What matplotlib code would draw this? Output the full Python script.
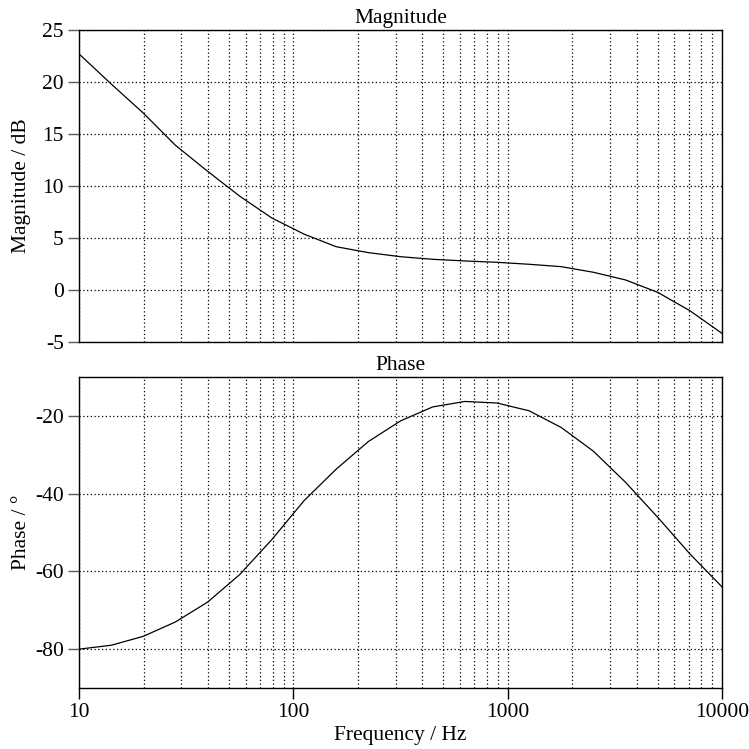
"""Bode plot: magnitude and phase over a log frequency axis."""
import matplotlib
matplotlib.use("Agg")
import matplotlib.pyplot as plt
from matplotlib.ticker import FixedLocator, LogLocator, NullFormatter

# 21 log-spaced frequencies from 10 Hz to 10 kHz (0.15 decade steps)
FREQ = [10.0, 14.13, 19.95, 28.18, 39.81, 56.23, 79.43, 112.2, 158.5, 223.9, 316.2,
        446.7, 631.0, 891.3, 1259.0, 1778.0, 2512.0, 3548.0, 5012.0, 7079.0, 10000.0]
MAG_DB = [22.7, 19.8, 17.0, 13.9, 11.4, 9.0, 6.9, 5.35, 4.14, 3.57, 3.18,
          2.93, 2.77, 2.64, 2.45, 2.22, 1.68, 0.94, -0.25, -2.02, -4.2]
PHASE_DEG = [-80.0, -79.0, -76.7, -73.0, -67.9, -60.8, -51.8, -41.8, -33.7, -26.6, -21.3,
             -17.7, -16.3, -16.7, -18.7, -23.0, -29.1, -37.1, -46.1, -55.5, -64.0]
X_TICKS = [10, 100, 1000, 10000]
X_TICK_LABELS = ["10", "100", "1000", "10000"]
MAG_TICKS = [-5, 0, 5, 10, 15, 20, 25]
PHASE_TICKS = [-80, -60, -40, -20]

plt.rcParams["font.family"] = ["Liberation Serif", "DejaVu Serif"]
FS = 15.5


def style_axis(ax, yticks, ylim):
    ax.set_xscale("log")
    ax.set_xlim(10, 10000)
    ax.set_ylim(*ylim)
    ax.yaxis.set_major_locator(FixedLocator(yticks))
    ax.set_yticklabels([str(v) for v in yticks])
    ax.xaxis.set_major_locator(FixedLocator(X_TICKS))
    ax.xaxis.set_minor_locator(LogLocator(base=10, subs=range(2, 10)))
    ax.xaxis.set_minor_formatter(NullFormatter())
    ax.grid(True, which="major", axis="both", color="black", linestyle=(0, (1, 2)), linewidth=0.9)
    ax.grid(True, which="minor", axis="x", color="black", linestyle=(0, (1, 2)), linewidth=0.9)
    ax.tick_params(axis="y", direction="out", length=8, width=1, color="0.35", labelsize=FS, pad=3)
    ax.tick_params(axis="x", which="minor", length=0)
    for spine in ax.spines.values():
        spine.set_linewidth(1.0)
        spine.set_color("black")


fig = plt.figure(figsize=(7.49, 7.49), dpi=100)
ax_mag = fig.add_axes([0.1055, 0.5438, 0.8585, 0.4162])
ax_ph = fig.add_axes([0.1055, 0.0814, 0.8585, 0.4153])

ax_mag.plot(FREQ, MAG_DB, color="black", linewidth=0.9)
style_axis(ax_mag, MAG_TICKS, (-5, 25))
ax_mag.set_title("Magnitude", fontsize=FS, pad=5)
ax_mag.set_ylabel("Magnitude / dB", fontsize=FS)
ax_mag.yaxis.set_label_coords(-0.074, 0.5)
ax_mag.tick_params(axis="x", which="major", length=0, labelbottom=False)

ax_ph.plot(FREQ, PHASE_DEG, color="black", linewidth=0.9)
style_axis(ax_ph, PHASE_TICKS, (-90, -10))
ax_ph.set_title("Phase", fontsize=FS, pad=5)
ax_ph.set_ylabel("Phase / °", fontsize=FS)
ax_ph.yaxis.set_label_coords(-0.074, 0.5)
ax_ph.set_xticklabels(X_TICK_LABELS)
ax_ph.tick_params(axis="x", which="major", direction="out", length=8, width=1, labelsize=FS, pad=3)
ax_ph.set_xlabel("Frequency / Hz", fontsize=FS, labelpad=3)

fig.savefig("out.png", dpi=100)
